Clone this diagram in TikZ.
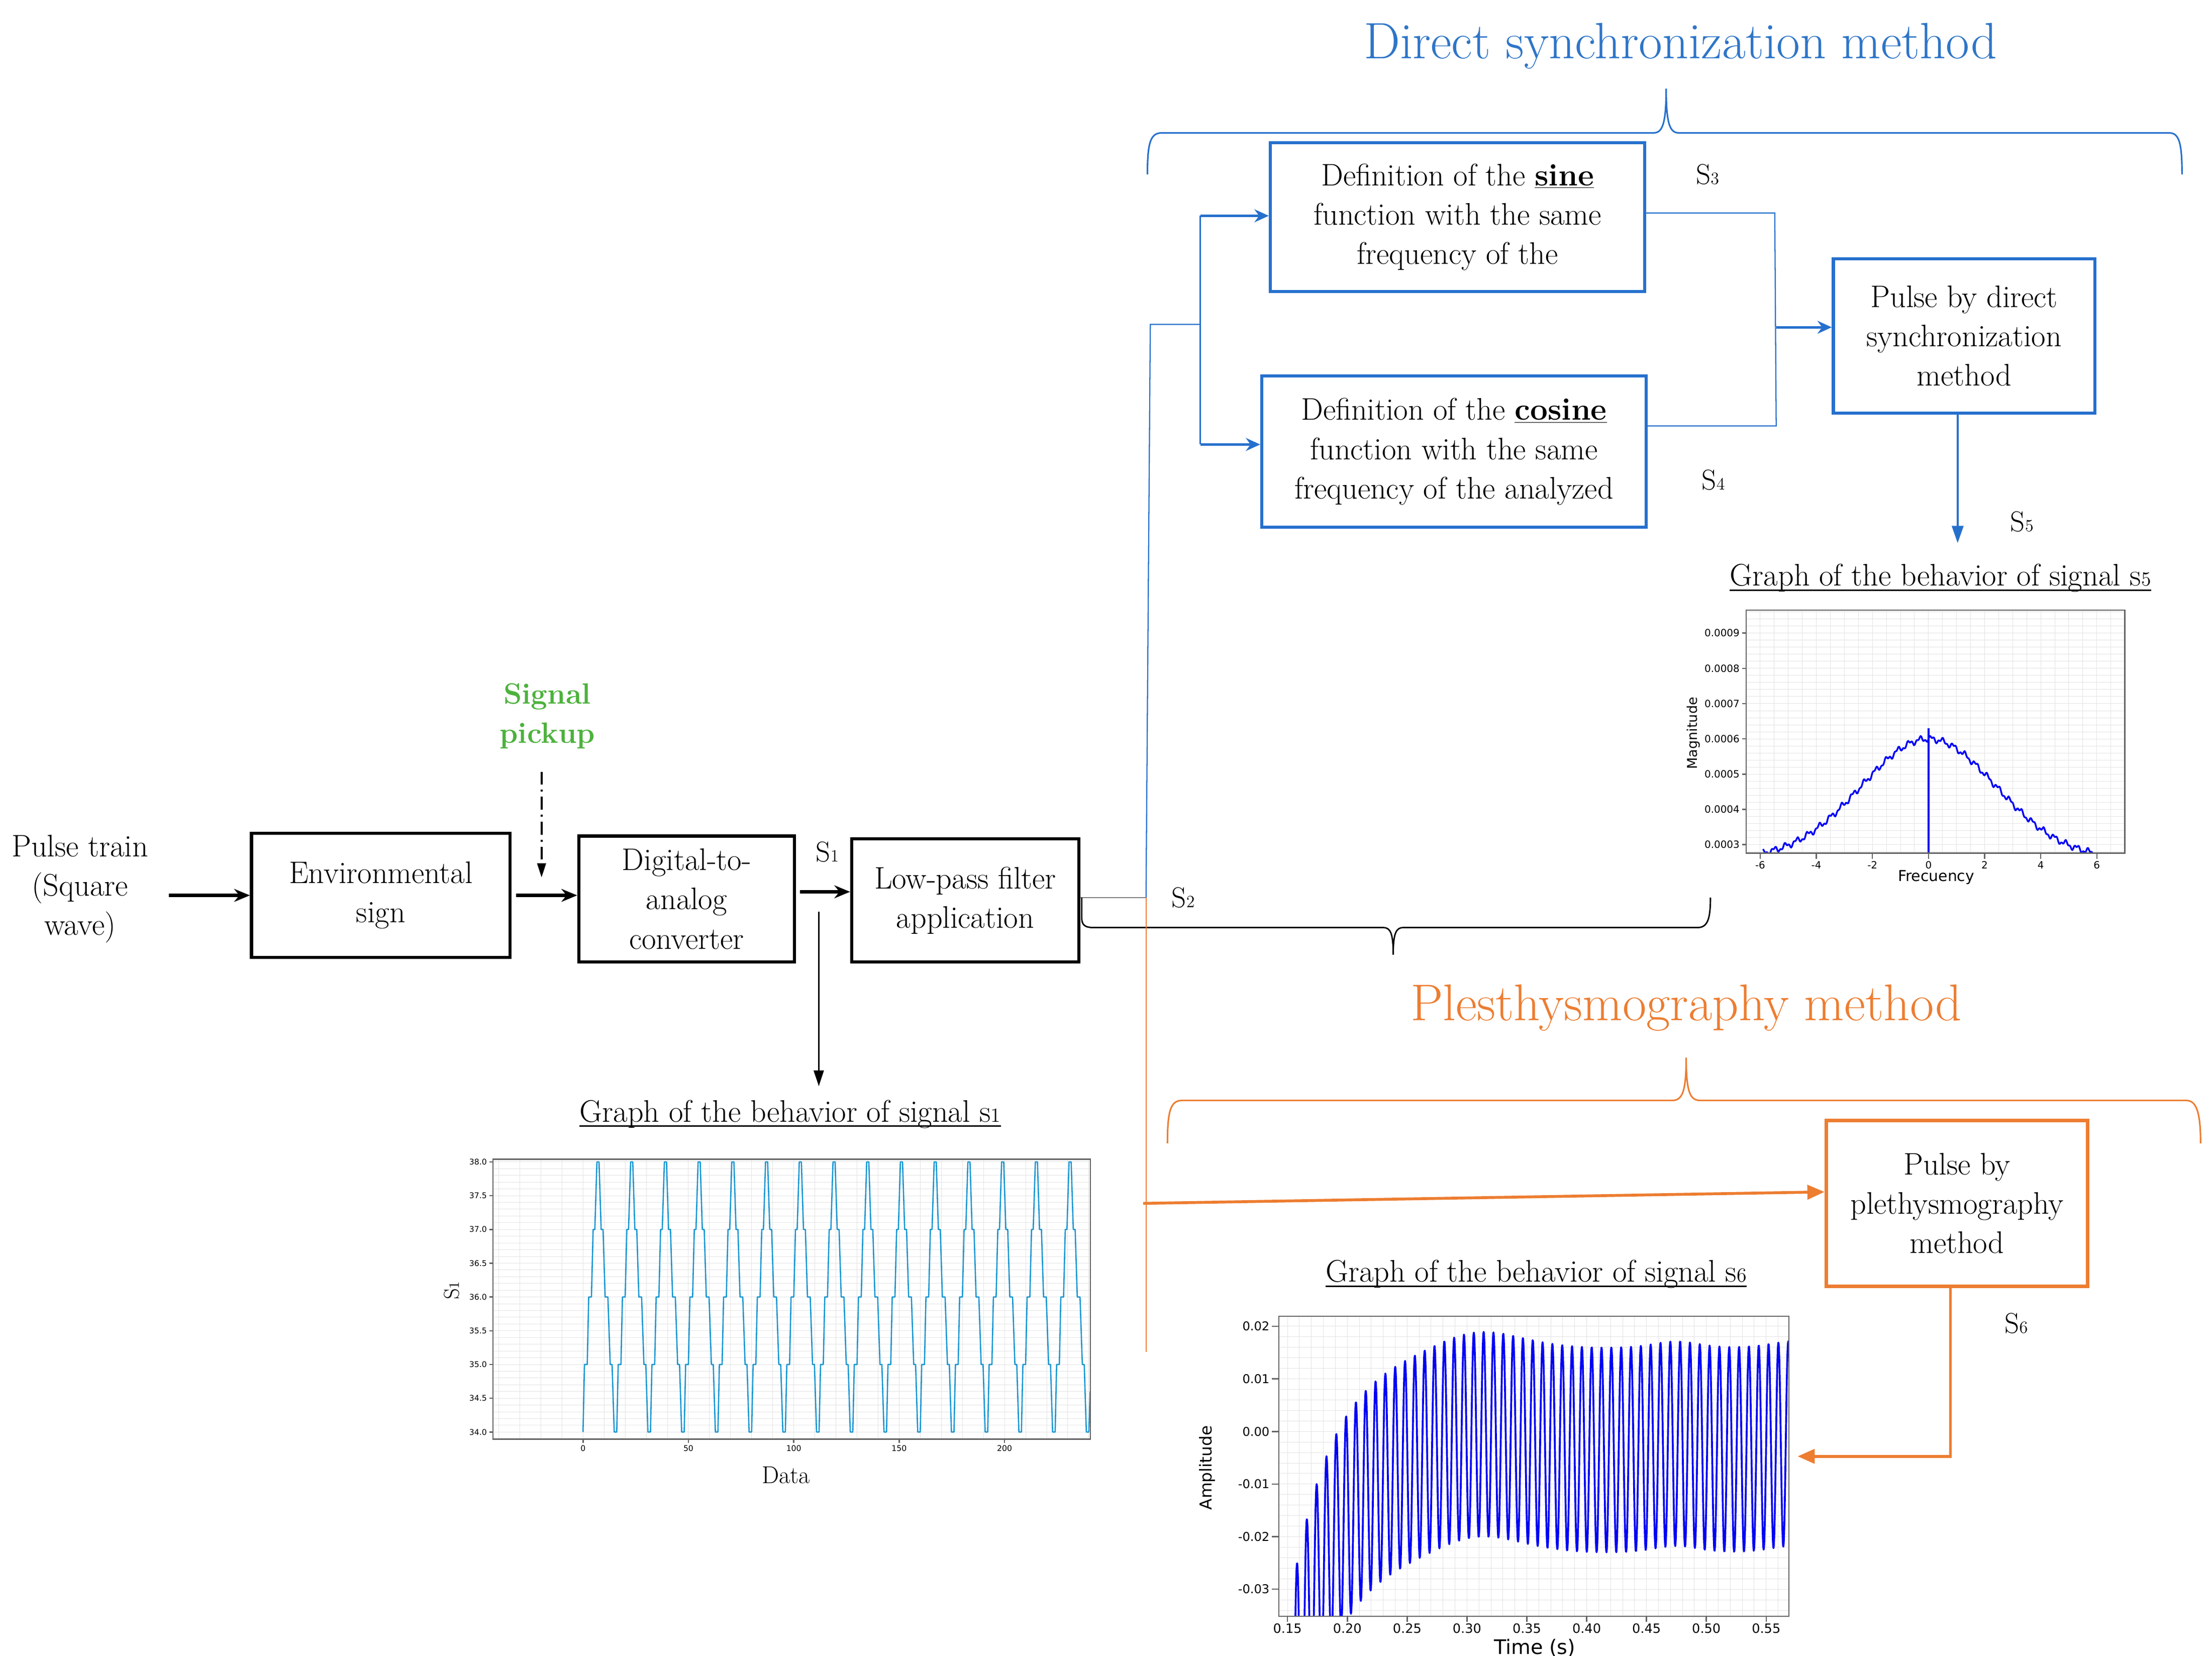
\documentclass[tikz,border=0pt]{standalone}
\usepackage{fontspec}
\newfontfamily\plotfont{DejaVu Sans}
\usetikzlibrary{arrows.meta}
\definecolor{dsblue}{RGB}{38,112,205}
\definecolor{titleblue}{RGB}{46,117,200}
\definecolor{plor}{RGB}{237,125,49}
\definecolor{pickgreen}{RGB}{76,178,60}
\definecolor{sonecol}{RGB}{25,150,210}
\definecolor{framegray}{RGB}{100,100,100}
\definecolor{gridgray}{RGB}{228,228,228}
\definecolor{purebl}{RGB}{0,0,245}
\begin{document}
\begin{tikzpicture}[x=1pt,y=-1pt,
  txt/.style={font=\fontsize{21.8}{27.5}\selectfont, align=center, inner sep=0pt},
  blkbox/.style={txt, draw=black, line width=2.2pt},
  bluebox/.style={txt, draw=dsblue, line width=2.2pt},
  orbox/.style={txt, draw=plor, line width=2.4pt},
  slab/.style={font=\fontsize{20}{20}\selectfont, inner sep=0pt},
  gtitle/.style={font=\fontsize{21.8}{24}\selectfont, inner sep=0pt, anchor=base},
  uline/.style={line width=1.1pt},
  barr/.style={line width=2.2pt, -{Stealth[length=11pt,width=9pt]}},
  thinarr/.style={line width=1.1pt, -{Triangle[length=11pt,width=7pt]}},
  bluearr/.style={dsblue, line width=1.8pt, -{Stealth[length=10pt,width=9pt]}},
  bluedown/.style={dsblue, line width=1.4pt, -{Triangle[length=12pt,width=8pt]}},
  thinblue/.style={dsblue, line width=0.8pt},
  orarr/.style={plor, line width=2pt, -{Triangle[length=12pt,width=10pt]}},
  orline/.style={plor, line width=0.8pt},
  gridline/.style={gridgray, line width=0.35pt},
  plotframe/.style={framegray, line width=0.9pt},
  tickl/.style={font=\plotfont\fontsize{7}{7}\selectfont, inner sep=1.5pt},
]
\useasboundingbox (0,0) rectangle (1548,1158.7);
\fill[white] (0,0) rectangle (1548,1158.7);

% ---------- titles ----------
\node[font=\fontsize{35.8}{40}\selectfont, text=titleblue, inner sep=0pt, anchor=base] (dstitle) at (1176,41) {Direct synchronization method};
\node[font=\fontsize{36.2}{40}\selectfont, text=plor, inner sep=0pt, anchor=base] (pltitle) at (1180,714) {Plesthysmography method};

% braces
\draw[dsblue, line width=1.1pt] (803,122) .. controls (803,100) and (805,93) .. (813,93) -- (1157,93) .. controls (1163,93) and (1166,88) .. (1166,62) .. controls (1166,88) and (1169,93) .. (1175,93) -- (1518,93) .. controls (1525,93) and (1527,100) .. (1527,122);
\draw[plor, line width=1.1pt] (817,800) .. controls (817,778) and (819,770) .. (827,770) -- (1170,770) .. controls (1177,770) and (1180,765) .. (1180,740) .. controls (1180,765) and (1183,770) .. (1190,770) -- (1530,770) .. controls (1537,770) and (1540,778) .. (1540,800);

% ---------- main chain ----------
\node[txt] (ptrain) at (56,622) {Pulse train\\(Square\\wave)};
\node[blkbox, minimum width=181pt, minimum height=87pt] (env) at (266.5,626.5) {Environmental\\sign};
\node[blkbox, minimum width=151pt, minimum height=88pt] (dac) at (480.5,629) {Digital-to-\\analog\\converter};
\node[blkbox, minimum width=159pt, minimum height=86pt] (lpf) at (675.5,630) {Low-pass filter\\application};
\node[txt, font=\bfseries\fontsize{20.5}{27.5}\selectfont, text=pickgreen] (pick) at (383,501) {Signal\\pickup};

\coordinate (pk1) at (379,540);
\coordinate (pk2) at (379,614);
\coordinate (a1) at (560,624);
\coordinate (g1a) at (573,638);
\coordinate (g1b) at (573,760);

\draw[barr] ([xshift=14pt]ptrain.east |- env.west) -- (env.west);
\draw[barr] ([xshift=3pt]env.east) -- (dac.west |- env.east);
\draw[barr] (a1) -- (lpf.west |- a1);
\draw[line width=1.5pt, dash pattern=on 9pt off 3.5pt on 1.5pt off 3.5pt, -{Triangle[length=10pt,width=6pt]}] (pk1) -- (pk2);
\draw[thinarr] (g1a) -- (g1b);

\node[slab] (s1l) at (579,596) {S{\fontsize{12}{12}\selectfont 1}};

% ---------- direct synchronization ----------
\node[bluebox, minimum width=262pt, minimum height=104pt] (sine) at (1020,152) {Definition of the \textbf{\underline{sine}}\\function with the same\\frequency of the};
\node[bluebox, minimum width=269pt, minimum height=106pt] (cosine) at (1017.5,316) {Definition of the \textbf{\underline{cosine}}\\function with the same\\frequency of the analyzed};
\node[bluebox, minimum width=183pt, minimum height=108pt] (pds) at (1374.5,235) {Pulse by direct\\synchronization\\method};

\coordinate (jA) at (802,628);
\coordinate (jB) at (805,227);
\coordinate (jC) at (840,227);
\coordinate (vs) at (840,151);
\coordinate (vc) at (840,311);
\coordinate (rA) at (1242,149);
\coordinate (rB) at (1243,298);
\coordinate (rC) at (1243,229);
\coordinate (d5a) at (1370,289);
\coordinate (d5b) at (1370,380);

\draw[gray, line width=0.8pt] (lpf.east |- jA) -- (jA);
\draw[thinblue] (jA) -- (jB) -- (jC);
\draw[dsblue, line width=1.2pt] (vs) -- (vc);
\draw[bluearr] (vs) -- (sine.west |- vs);
\draw[bluearr] (vc) -- (cosine.west |- vc);
\draw[thinblue] (sine.east |- rA) -- (rA) -- (rB) -- (cosine.east |- rB);
\draw[bluearr] (rC) -- (pds.west |- rC);
\draw[bluedown] (pds.south -| d5a) -- (d5b);

\node[slab] (s3l) at (1195,122) {S{\fontsize{12}{12}\selectfont 3}};
\node[slab] (s4l) at (1199,336) {S{\fontsize{12}{12}\selectfont 4}};
\node[slab] (s5l) at (1415,365) {S{\fontsize{12}{12}\selectfont 5}};
\node[slab] (s2l) at (828,628) {S{\fontsize{12}{12}\selectfont 2}};

% black brace under s5 graph
\draw[black, line width=1pt] (757,628) -- (757,642) .. controls (757,647) and (759,649) .. (765,649) -- (968,649) .. controls (973,649) and (975,653) .. (975,668) .. controls (975,653) and (977,649) .. (982,649) -- (1188,649) .. controls (1195,649) and (1197,643) .. (1197,628);

% ---------- plethysmography ----------
\node[orbox, minimum width=183pt, minimum height=116pt] (pleth) at (1369.5,842) {Pulse by\\plethysmography\\method};
\coordinate (oB) at (802,946);
\coordinate (oC) at (800,842);
\coordinate (o1) at (1365,904);
\coordinate (o2) at (1365,1019);
\coordinate (o3) at (1258,1019);
\draw[orline] (jA) -- (oB);
\draw[orarr] (oC) -- ([yshift=8pt]pleth.west);
\draw[orarr] (pleth.south -| o1) -- (o2) -- (o3);
\node[slab] (s6l) at (1411,926) {S{\fontsize{12}{12}\selectfont 6}};

% ---------- graph s5 ----------
\node[gtitle] (g5title) at (1358,410) {Graph of the behavior of signal s{\fontsize{14}{14}\selectfont 5}};
\draw[uline] ([yshift=-3pt]g5title.base west) -- ([yshift=-3pt]g5title.base east);
\begin{scope}[shift={(1349.6,665)}, x=19.63pt, y=24.67pt]
  \begin{scope}
    \clip (-6.5,2.758) rectangle (7.0,9.65);
    \foreach \gx in {-6.5,-6,...,7} \draw[gridline] (\gx,2.758) -- (\gx,9.65);
    \foreach \gy in {2.8,3.0,...,9.6} \draw[gridline] (-6.5,\gy) -- (7,\gy);
    \draw[purebl, line width=1.2pt, line join=round] plot[domain=-5.9:5.9, samples=400] (\x, {2.6+3.4*exp(-((\x)*(\x))/11.52)+0.07*sin(900*\x)+0.04*sin(2300*\x)});
    \draw[purebl, line width=1.2pt] (0,2.758) -- (0,6.3);
  \end{scope}
  \draw[plotframe] (-6.5,2.758) rectangle (7.0,9.65);
  \foreach \v/\lab in {3/0.0003,4/0.0004,5/0.0005,6/0.0006,7/0.0007,8/0.0008,9/0.0009}
    {\draw[plotframe] (-6.5,\v) -- (-6.65,\v); \node[tickl, anchor=east] at (-6.65,\v) {\lab};}
  \foreach \xx in {-6,-4,-2,0,2,4,6}
    {\draw[plotframe] (\xx,2.758) -- (\xx,2.6); \node[tickl, anchor=north] at (\xx,2.6) {\xx};}
\end{scope}
\node[font=\plotfont\fontsize{10.5}{10.5}\selectfont, inner sep=0pt] (freq) at (1355,614) {Frecuency};
\node[font=\plotfont\fontsize{9.5}{9.5}\selectfont, inner sep=0pt, rotate=90] (magn) at (1185,513) {Magnitude};

% ---------- graph s1 ----------
\node[gtitle] (g1title) at (553,785) {Graph of the behavior of signal s{\fontsize{14}{14}\selectfont 1}};
\draw[uline] ([yshift=-3pt]g1title.base west) -- ([yshift=-3pt]g1title.base east);
\begin{scope}[shift={(408,1002)}, x=1.475pt, y=47.25pt]
  \begin{scope}
    \clip (-42.7,-0.106) rectangle (240.7,4.042);
    \foreach \gx in {-40,-30,...,240} \draw[gridline] (\gx,-0.106) -- (\gx,4.042);
    \foreach \gy in {0,0.1,...,4.05} \draw[gridline] (-42.7,\gy) -- (240.7,\gy);
    \draw[sonecol, line width=0.9pt, line join=round] (0,0)
      \foreach \c in {0,...,14} { -- ({16*\c+0.7},1) -- ({16*\c+2},1) -- ({16*\c+2.7},2) -- ({16*\c+4},2) -- ({16*\c+4.8},3) -- ({16*\c+5.6},3) -- ({16*\c+6.6},4) -- ({16*\c+7.6},4) -- ({16*\c+8.6},3) -- ({16*\c+9.5},3) -- ({16*\c+10.5},2) -- ({16*\c+11.8},2) -- ({16*\c+12.9},1) -- ({16*\c+13.8},1) -- ({16*\c+14.8},0) -- ({16*\c+16},0) }
      -- (240.6,0.6);
  \end{scope}
  \draw[plotframe] (-42.7,-0.106) rectangle (240.7,4.042);
  \foreach \v/\lab in {0/34.0,0.5/34.5,1/35.0,1.5/35.5,2/36.0,2.5/36.5,3/37.0,3.5/37.5,4/38.0}
    {\draw[plotframe] (-42.7,\v) -- (-44.5,\v); \node[tickl, font=\plotfont\fontsize{5.5}{5.5}\selectfont, anchor=east] at (-44.5,\v) {\lab};}
  \foreach \xx in {0,50,100,150,200}
    {\draw[plotframe] (\xx,-0.106) -- (\xx,-0.16); \node[tickl, font=\plotfont\fontsize{5.5}{5.5}\selectfont, anchor=north] at (\xx,-0.16) {\xx};}
\end{scope}
\node[font=\fontsize{17}{17}\selectfont, inner sep=0pt] (datal) at (550,1032) {Data};
\node[font=\fontsize{15}{15}\selectfont, inner sep=0pt, rotate=90] (s1ax) at (316,903) {S{\fontsize{10}{10}\selectfont 1}};

% ---------- graph s6 ----------
\node[gtitle] (g6title) at (1075,897) {Graph of the behavior of signal s{\fontsize{14}{14}\selectfont 6}};
\draw[uline] ([yshift=-3pt]g6title.base west) -- ([yshift=-3pt]g6title.base east);
\begin{scope}[shift={(901,1001.6)}, x=8.375pt, y=36.8pt]
  \begin{scope}
    \clip (-0.72,-3.516) rectangle (41.9,2.19);
    \foreach \gx in {0,1,...,41} \draw[gridline] (\gx,-3.516) -- (\gx,2.19);
    \foreach \gy in {-3.4,-3.2,...,2.1} \draw[gridline] (-0.72,\gy) -- (41.9,\gy);
    \draw[purebl, line width=1.3pt, line join=round] plot[domain=-0.72:41.9, samples=1500]
      (\x, {-0.35 - 4.45*exp(-(\x-0.5)/3.6) + 0.35*exp(-((\x-16)/5)*((\x-16)/5)) + 0.12*exp(-((\x-32.5)/2.5)*((\x-32.5)/2.5)) + 0.12*exp(-((\x-42.5)/3)*((\x-42.5)/3)) + 1.95*cos(438.5*(\x-16.39))});
  \end{scope}
  \draw[plotframe] (-0.72,-3.516) rectangle (41.9,2.19);
  \foreach \v/\lab in {2/0.02,1/0.01,0/0.00,-1/-0.01,-2/-0.02,-3/-0.03}
    {\draw[plotframe] (-0.72,\v) -- (-1.3,\v); \node[tickl, font=\plotfont\fontsize{8.5}{8.5}\selectfont, anchor=east] at (-1.3,\v) {\lab};}
  \foreach \xx/\lab in {0/0.15,5/0.20,10/0.25,15/0.30,20/0.35,25/0.40,30/0.45,35/0.50,40/0.55}
    {\draw[plotframe] (\xx,-3.516) -- (\xx,-3.62); \node[tickl, font=\plotfont\fontsize{9}{9}\selectfont, anchor=north, inner sep=1pt] at (\xx,-3.62) {\lab};}
\end{scope}
\node[font=\plotfont\fontsize{14}{14}\selectfont, inner sep=0pt] (timel) at (1074,1153) {Time (s)};
\node[font=\plotfont\fontsize{11.5}{11.5}\selectfont, inner sep=0pt, rotate=90] (ampl) at (845,1027) {Amplitude};

\end{tikzpicture}
\end{document}
